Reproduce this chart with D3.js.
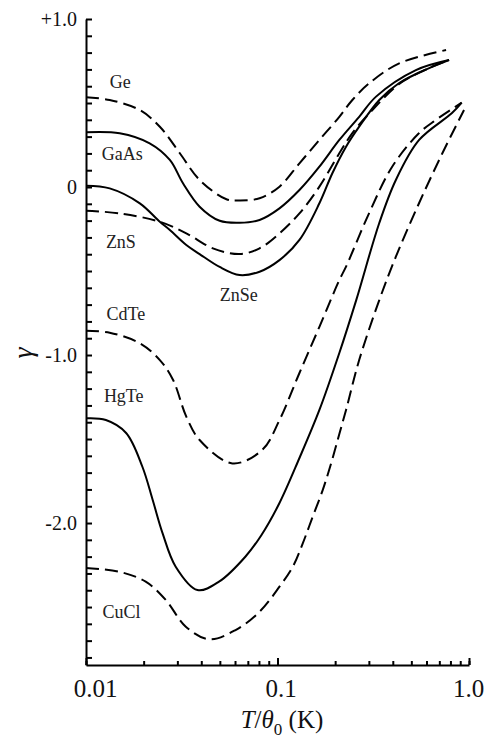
<!DOCTYPE html>
<html>
<head>
<meta charset="utf-8">
<script src="https://cdn.jsdelivr.net/npm/d3@7"></script>
<style>
  body { margin: 0; background: #fff; }
  svg { display: block; }
  text { font-family: "Liberation Serif", "Times New Roman", serif; }
</style>
</head>
<body>
<svg id="chart" width="487" height="740"></svg>
<script>
// Gruneisen parameter gamma vs reduced temperature T/theta0
const ge   = [[0.01,0.534],[0.0133,0.518],[0.0191,0.458],[0.0243,0.359],[0.0309,0.201],[0.0392,0.042],[0.0541,-0.073],[0.0634,-0.08],[0.0806,-0.067],[0.1024,0.002],[0.1302,0.141],[0.1655,0.28],[0.2103,0.418],[0.246,0.518],[0.301,0.617],[0.432,0.736],[0.759,0.815]];
const gaas = [[0.01,0.326],[0.015,0.32],[0.0215,0.26],[0.0274,0.161],[0.0321,0.022],[0.0392,-0.117],[0.0499,-0.201],[0.0634,-0.213],[0.0806,-0.196],[0.1024,-0.127],[0.1302,-0.018],[0.1655,0.121],[0.2103,0.28],[0.267,0.418],[0.327,0.538],[0.528,0.696],[0.787,0.756]];
const zns  = [[0.01,-0.141],[0.015,-0.157],[0.0243,-0.207],[0.0334,-0.276],[0.046,-0.365],[0.0634,-0.399],[0.0806,-0.365],[0.1024,-0.276],[0.1302,-0.157],[0.1655,0.002],[0.2103,0.201],[0.246,0.321],[0.313,0.458],[0.432,0.613],[0.62,0.708],[0.787,0.756]];
const znse = [[0.01,0.008],[0.0133,-0.008],[0.0191,-0.097],[0.0243,-0.207],[0.0274,-0.256],[0.0334,-0.345],[0.0392,-0.399],[0.0499,-0.476],[0.0634,-0.524],[0.0806,-0.504],[0.1024,-0.435],[0.1302,-0.315],[0.1655,-0.097],[0.1934,0.082],[0.228,0.24],[0.267,0.359],[0.34,0.518],[0.432,0.619],[0.62,0.708],[0.787,0.756]];
const cdte = [[0.01,-0.855],[0.0133,-0.867],[0.0191,-0.93],[0.0243,-1.03],[0.0285,-1.149],[0.0334,-1.367],[0.0392,-1.506],[0.0581,-1.645],[0.0832,-1.565],[0.1024,-1.387],[0.1302,-1.107],[0.1655,-0.832],[0.2103,-0.554],[0.228,-0.474],[0.301,-0.155],[0.397,0.121],[0.549,0.321],[0.671,0.399],[0.916,0.502]];
const hgte = [[0.01,-1.377],[0.0127,-1.387],[0.0162,-1.464],[0.0197,-1.665],[0.0223,-1.863],[0.0251,-2.06],[0.0294,-2.26],[0.0382,-2.399],[0.0495,-2.349],[0.0681,-2.199],[0.0825,-2.071],[0.1024,-1.881],[0.1302,-1.613],[0.1655,-1.327],[0.2103,-0.988],[0.2577,-0.673],[0.34,-0.214],[0.415,0.042],[0.549,0.28],[0.815,0.44],[0.916,0.502]];
const cucl = [[0.01,-2.268],[0.0149,-2.29],[0.0205,-2.349],[0.0261,-2.458],[0.0332,-2.617],[0.0439,-2.692],[0.0604,-2.637],[0.0806,-2.528],[0.1024,-2.379],[0.1202,-2.26],[0.1355,-2.121],[0.1527,-1.962],[0.1722,-1.804],[0.1905,-1.645],[0.2103,-1.47],[0.228,-1.327],[0.267,-1.03],[0.34,-0.673],[0.415,-0.415],[0.549,-0.095],[0.726,0.201],[0.942,0.458]];

const seriesNames  = ['Ge', 'GaAs', 'ZnS', 'ZnSe', 'CdTe', 'HgTe', 'CuCl'];
const seriesValues = [ge, gaas, zns, znse, cdte, hgte, cucl];
const seriesDashed = [true, false, true, false, true, false, true];
// where each name sits, in data units (T/theta0, gamma)
const labelAnchors = [[0.0133,0.589],[0.0121,0.161],[0.0127,-0.363],[0.0499,-0.679],[0.0128,-0.792],[0.0124,-1.28],[0.0122,-2.565]];

const xTickValues = [0.01, 0.1, 1];
const xTickLabels = ['0.01', '0.1', '1.0'];
const yTickValues = [1, 0, -1, -2];
const yTickLabels = ['+1.0', '0', '-1.0', '-2.0'];

var margin = {top: 19, left: 86},
    plotWidth = 383,
    plotHeight = 646,
    lineColor = '#000',
    textColor = '#111',
    serif = '"Liberation Serif", "Times New Roman", serif',
    xLabelShift = [9, 3, -1]; // the printed labels sit a little off their ticks

const x = d3.scaleLog()
            .domain([0.01, 1])
            .range([margin.left, margin.left + plotWidth]);

const y = d3.scaleLinear()
            .domain([-2.845, 1.0])
            .range([margin.top + plotHeight, margin.top]);

var svg = d3.select('#chart');

// Curves
const line = d3.line()
                .x(d => x(d[0]))
                .y(d => y(d[1]))
                .curve(d3.curveCatmullRom.alpha(0.5));

seriesValues.forEach(function (values, i) {
    svg.append('path')
        .attr('class', 'curve')
        .attr('fill', 'none')
        .attr('stroke', lineColor)
        .attr('stroke-width', 2)
        .attr('stroke-dasharray', seriesDashed[i] ? '13,6' : null)
        .attr('d', line(values));
});

// Y axis: minor ticks every 0.1, pointing inward
var yMinor = d3.range(-28, 11).map(v => v / 10);

svg.append('g')
    .attr('transform', 'translate(' + margin.left + ',0)')
    .call(d3.axisLeft(y).tickValues(yMinor).tickSizeInner(-6).tickSizeOuter(0).tickFormat(''));

var yLabels = svg.append('g')
    .attr('transform', 'translate(' + margin.left + ',0)')
    .call(d3.axisLeft(y).tickValues(yTickValues).tickSize(0).tickPadding(9)
            .tickFormat((d, i) => yTickLabels[i]));
yLabels.select('.domain').remove();

// X axis: log ticks pointing inward
svg.append('g')
    .attr('transform', 'translate(0,' + (margin.top + plotHeight) + ')')
    .call(d3.axisBottom(x).tickValues(x.ticks()).tickSizeInner(-4).tickSizeOuter(0).tickFormat(''));

svg.append('g')
    .attr('transform', 'translate(0,' + (margin.top + plotHeight) + ')')
    .call(d3.axisBottom(x).tickValues(xTickValues).tickSizeInner(-7).tickSizeOuter(0).tickFormat(''))
    .select('.domain').remove();

var xLabels = svg.append('g')
    .attr('transform', 'translate(0,' + (margin.top + plotHeight) + ')')
    .call(d3.axisBottom(x).tickValues(xTickValues).tickSize(0).tickPadding(14)
            .tickFormat((d, i) => xTickLabels[i]));
xLabels.select('.domain').remove();
xLabels.selectAll('text').attr('dx', (d, i) => xLabelShift[i]);

svg.selectAll('.domain, .tick line')
    .attr('stroke', lineColor)
    .attr('stroke-width', 2);

yLabels.attr('font-family', serif).attr('font-size', 20)
    .selectAll('text').attr('fill', textColor);
xLabels.attr('font-family', serif).attr('font-size', 25)
    .selectAll('text').attr('fill', textColor);

// Curve names
seriesNames.forEach(function (name, i) {
    svg.append('text')
        .attr('x', x(labelAnchors[i][0]))
        .attr('y', y(labelAnchors[i][1]))
        .attr('font-family', serif)
        .attr('font-size', 18)
        .attr('fill', '#222')
        .text(name);
});

// Axis titles
var xTitle = svg.append('text')
    .attr('x', 282)
    .attr('y', 728)
    .attr('text-anchor', 'middle')
    .attr('font-family', serif)
    .attr('font-size', 25)
    .attr('fill', textColor);
xTitle.append('tspan').attr('font-style', 'italic').text('T');
xTitle.append('tspan').text('/');
xTitle.append('tspan').attr('font-style', 'italic').text('θ');
xTitle.append('tspan').attr('font-size', 17).attr('dy', 7).text('0');
xTitle.append('tspan').attr('dy', -7).text(' (K)');

svg.append('text')
    .attr('transform', 'translate(32,353) rotate(-90)')
    .attr('text-anchor', 'middle')
    .attr('font-family', serif)
    .attr('font-size', 28)
    .attr('font-style', 'italic')
    .attr('fill', textColor)
    .text('γ');
</script>
</body>
</html>
